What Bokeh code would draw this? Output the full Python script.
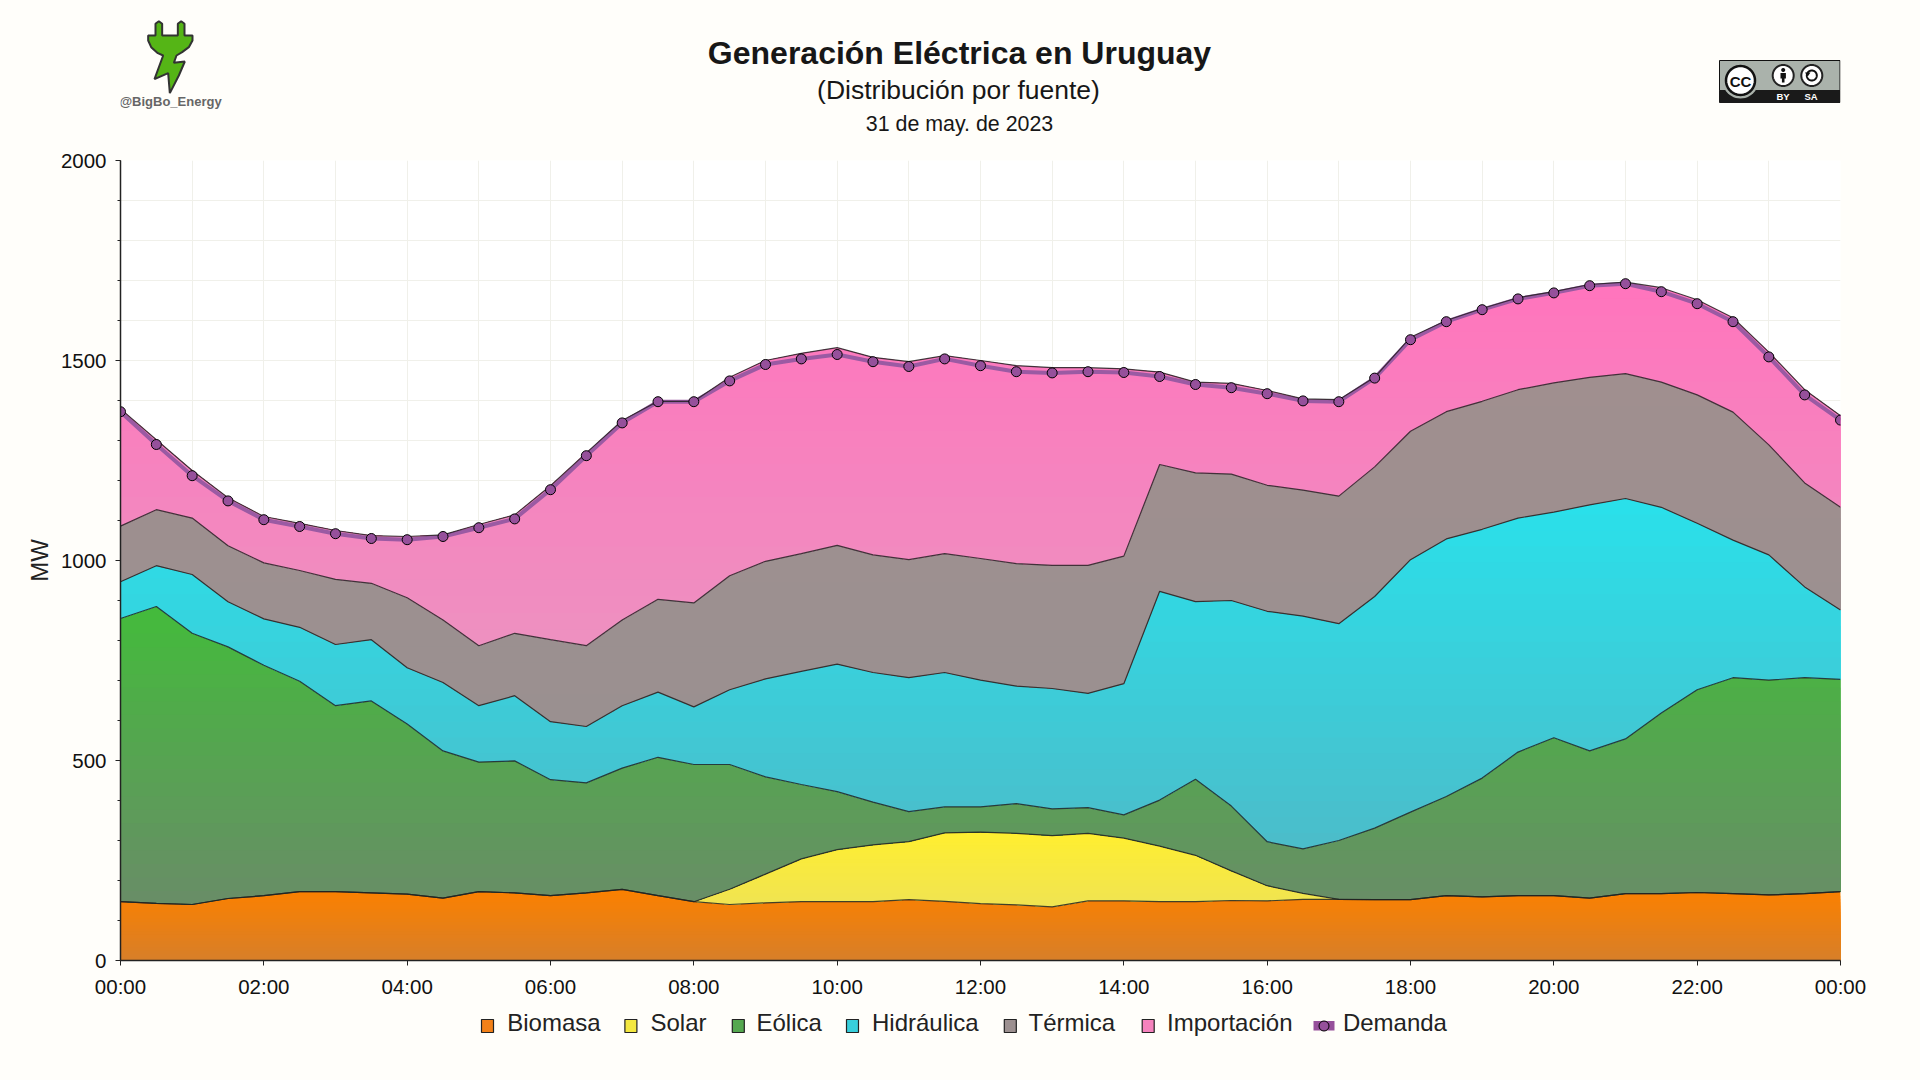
import numpy as np
from bokeh.plotting import figure
from bokeh.layouts import column
from bokeh.embed import file_html
from bokeh.resources import INLINE
from bokeh.core.properties import value
from bokeh.models import FixedTicker, GlobalInlineStyleSheet

# half-hourly readings, stacked upper edge of each source (MW)
horas = [i * 0.5 for i in range(49)]
biomasa = [147,143,140,155,162,172,172,169,166,156,172,169,162,169,178,162,147,140,144,147,147,147,152,148,142,139,134,149,149,147,147,150,149,153,153,152,152,162,159,162,162,156,167,167,170,167,164,167,172]
solar = [147,143,140,155,162,172,172,169,166,156,172,169,162,169,178,162,147,178,216,254,277,289,297,319,321,318,312,318,306,286,263,224,187,168,153,152,152,162,159,162,162,156,167,167,170,167,164,167,172]
eolica = [855,885,818,784,738,698,637,649,591,524,496,499,452,444,481,508,490,490,459,440,422,396,372,384,384,392,379,382,364,401,453,386,297,279,300,331,371,410,456,521,557,524,554,619,677,707,701,707,703]
hidraulica = [947,987,965,897,854,833,790,802,732,695,637,662,597,585,637,671,634,677,704,723,741,720,707,720,701,686,680,668,692,923,897,900,873,861,842,910,1002,1054,1078,1106,1121,1139,1155,1133,1093,1051,1014,934,876]
termica = [1086,1127,1106,1037,994,975,953,943,907,851,787,818,802,787,851,903,894,962,998,1017,1038,1014,1002,1017,1005,992,988,988,1011,1240,1219,1216,1188,1176,1161,1234,1323,1372,1398,1427,1444,1458,1467,1446,1414,1371,1289,1194,1133]
importacion = [1379,1302,1225,1157,1110,1093,1075,1062,1060,1064,1090,1114,1187,1269,1350,1398,1398,1458,1500,1518,1532,1508,1497,1512,1500,1487,1482,1482,1479,1471,1446,1443,1425,1404,1402,1458,1558,1600,1630,1657,1672,1690,1696,1682,1652,1607,1521,1427,1362]
demanda = [1372,1290,1212,1149,1102,1085,1067,1055,1052,1060,1082,1104,1177,1262,1344,1397,1397,1449,1490,1504,1515,1497,1485,1504,1487,1472,1469,1472,1470,1460,1440,1432,1417,1399,1397,1456,1552,1597,1627,1654,1669,1687,1692,1672,1642,1597,1509,1414,1351]

nombres = ["Biomasa", "Solar", "Eólica", "Hidráulica", "Térmica", "Importación"]
color_alto = ["#fb8000", "#ffee30", "#44ba3c", "#2ae0ea", "#a08f8f", "#ff75bd"]
color_bajo = ["#d87f28", "#f0e452", "#688e66", "#4bbdca", "#9a9090", "#ee90c0"]
LEGEND_COLOR = ["#f28018", "#f4e840", "#55a850", "#38cfdc", "#9c9090", "#f582bd"]
etiquetas_x = {h: f"{h % 24:02d}:00" for h in range(0, 25, 2)}

# legend layout (page pixels)
leg_swatch_x = [481, 624.4, 731.8, 846, 1003.8, 1141.7]
leg_text_x = [506.7, 650, 756, 871.5, 1028, 1166.6, 1342.4]

BG = "#fffefa"
FONT = "Liberation Sans"
DARK = "#222222"
W = 1904
TOP = 148
MAIN_BOTTOM = 1004


def franja(y0, y1, x0=120, x1=1840):
    """A strip figure whose data units are page pixels."""
    f = figure(frame_width=1720, frame_height=y1 - y0, width=W, height=y1 - y0,
               x_range=(x0, x1), y_range=(y1, y0), output_backend="svg", toolbar_location=None,
               min_border_left=120, min_border_right=64, min_border_top=0, min_border_bottom=0,
               outline_line_color=None, background_fill_color=BG, border_fill_color=BG,
               x_axis_type=None, y_axis_type=None)
    f.grid.visible = False
    return f


# ---------- header strip ----------
h = franja(0, TOP)
h.stylesheets.append(GlobalInlineStyleSheet(css=f"html,body{{background:{BG};}}"))


def texto(fig, x, y, s, size, style="normal", color="#171717", align="center"):
    fig.text([x], [y], text=[s], text_font=value(FONT), text_font_size=f"{size}px",
             text_font_style=style, text_color=color, text_align=align, text_baseline="middle")


def poli(pts, fill, line=None, lw=1.0):
    h.patch([a for a, _ in pts], [b for _, b in pts], fill_color=fill, line_color=line, line_width=lw)


def circulo(cx, cy, r, fill, line=None, lw=1.0):
    t = np.linspace(0, 2 * np.pi, 48, endpoint=False)
    poli(list(zip(cx + r * np.cos(t), cy + r * np.sin(t))), fill, line, lw)


texto(h, 959, 52, "Generación Eléctrica en Uruguay", 32, "bold")
texto(h, 958, 89, "(Distribución por fuente)", 26.5)
texto(h, 959, 123, "31 de may. de 2023", 21.4)

enchufe = [(225, 70), (235, 62), (245, 70), (245, 105), (292, 105), (292, 70), (302, 62), (312, 70),
           (312, 105), (336, 105), (336, 120), (325, 140), (305, 155), (288, 165), (280, 187),
           (313, 183), (295, 225), (268, 278), (263, 218), (222, 236), (248, 165), (232, 158),
           (212, 140), (203, 120), (203, 105), (225, 105)]
poli([(80 + a / 3, b / 3) for a, b in enchufe], "#55b516", "#333333", 2)
texto(h, 170, 100.5, "@BigBo_Energy", 13, "bold", "#666666")

poli([(1719, 60), (1839.5, 60), (1839.5, 90), (1719, 90)], "#aab2ab", "#111111", 1)
poli([(1719, 90), (1839.5, 90), (1839.5, 102), (1719, 102)], "#1a1a1a", "#1a1a1a", 1)
circulo(1740, 80, 18, "#aab2ab")
circulo(1740, 80, 14.5, "#ffffff", "#111111", 2.5)
texto(h, 1740, 80.5, "CC", 15, "bold", "#111111")
for cx in (1782.7, 1811.3):
    circulo(cx, 75, 10.5, "#ffffff", "#222222", 2)
circulo(1782.7, 69.5, 2, "#111111")
poli([(1780, 72.5), (1785.4, 72.5), (1785.4, 78), (1784, 78), (1784, 82), (1781.4, 82), (1781.4, 78), (1780, 78)], "#111111")
circulo(1811.3, 75, 5, "#ffffff", "#111111", 2)
poli([(1804.5, 72), (1810, 72), (1807.2, 76)], "#111111")
texto(h, 1782.5, 96, "BY", 9.5, "bold", "#ffffff")
texto(h, 1810.5, 96, "SA", 9.5, "bold", "#ffffff")

# ---------- main chart ----------
p = figure(frame_width=1720, frame_height=800, width=W, height=MAIN_BOTTOM - TOP,
           x_range=(0, 24), y_range=(0, 2000), output_backend="svg", toolbar_location=None,
           min_border_left=120, min_border_right=64, min_border_top=160 - TOP,
           min_border_bottom=MAIN_BOTTOM - 960,
           background_fill_color="#ffffff", border_fill_color=BG, outline_line_color=None)

p.xaxis.ticker = FixedTicker(ticks=list(range(0, 25, 2)))
p.xaxis.major_label_overrides = etiquetas_x
p.yaxis.ticker = FixedTicker(ticks=list(range(0, 2001, 500)), minor_ticks=list(range(0, 2001, 100)))
p.xgrid.ticker = FixedTicker(ticks=list(range(0, 25)))
p.ygrid.ticker = FixedTicker(ticks=list(range(0, 2001, 100)))
p.grid.grid_line_color = "#f0f0ea"
p.grid.grid_line_width = 1
for ax in (p.xaxis[0], p.yaxis[0]):
    ax.axis_line_color = DARK
    ax.axis_line_width = 1.5
    ax.major_tick_line_color = DARK
    ax.minor_tick_line_color = DARK
    ax.major_tick_out = 5
    ax.major_tick_in = 0
    ax.minor_tick_out = 3
    ax.minor_tick_in = 0
    ax.major_label_text_font = FONT
    ax.major_label_text_font_size = "20.5px"
    ax.major_label_text_color = "#111111"
    ax.major_label_standoff = 9
p.xaxis.minor_tick_line_color = None
p.yaxis.axis_label = "MW"
p.yaxis.axis_label_text_font = FONT
p.yaxis.axis_label_text_font_style = "normal"
p.yaxis.axis_label_text_font_size = "24px"
p.yaxis.axis_label_text_color = "#222222"
p.yaxis.axis_label_standoff = 5


def mezcla(c1, c2, t):
    a = [int(c1[i:i + 2], 16) for i in (1, 3, 5)]
    b = [int(c2[i:i + 2], 16) for i in (1, 3, 5)]
    return "#%02x%02x%02x" % tuple(int(round(a[i] + (b[i] - a[i]) * t)) for i in range(3))


capas = [biomasa, solar, eolica, hidraulica, termica, importacion]
xd = np.linspace(0, 24, 48 * 6 + 1)
N = 22
for k, sup in enumerate(capas):
    inf = capas[k - 1] if k else [0] * len(horas)
    sup_d = np.interp(xd, horas, sup)
    inf_d = np.interp(xd, horas, inf)
    ymax, ymin = max(sup), min(inf)
    for b in range(N):
        techo = ymax - (ymax - ymin) * b / N
        y2 = np.maximum(inf_d, np.minimum(sup_d, techo))
        p.varea(x=xd, y1=inf_d, y2=y2, fill_color=mezcla(color_alto[k], color_bajo[k], b / (N - 1)))

p.line(horas, demanda, line_color="#9b5aa3", line_width=4)
for sup in capas:
    p.line(horas, sup, line_color="#222222", line_width=1.2, line_alpha=0.85)
p.scatter(horas, demanda, size=10, marker="circle", fill_color="#96509b",
          line_color="#000000", line_width=1)

# ---------- legend strip below the chart ----------
f = franja(MAIN_BOTTOM, 1064)
for k, n in enumerate(nombres):
    f.quad(left=[leg_swatch_x[k]], right=[leg_swatch_x[k] + 12], top=[1019], bottom=[1032],
           fill_color=LEGEND_COLOR[k], line_color="#222222", line_width=1.2)
    texto(f, leg_text_x[k], 1022, n, 24, color="#222222", align="left")
f.quad(left=[1313], right=[1334], top=[1020.5], bottom=[1030], fill_color="#96509b", line_color=None)
f.scatter([1323.5], [1025.5], size=10, marker="circle", fill_color="#96509b",
          line_color="#000000", line_width=1)
texto(f, leg_text_x[6], 1022, "Demanda", 24, color="#222222", align="left")

page = column(h, p, f, spacing=0)
open("out.html", "w").write(file_html(page, INLINE))
